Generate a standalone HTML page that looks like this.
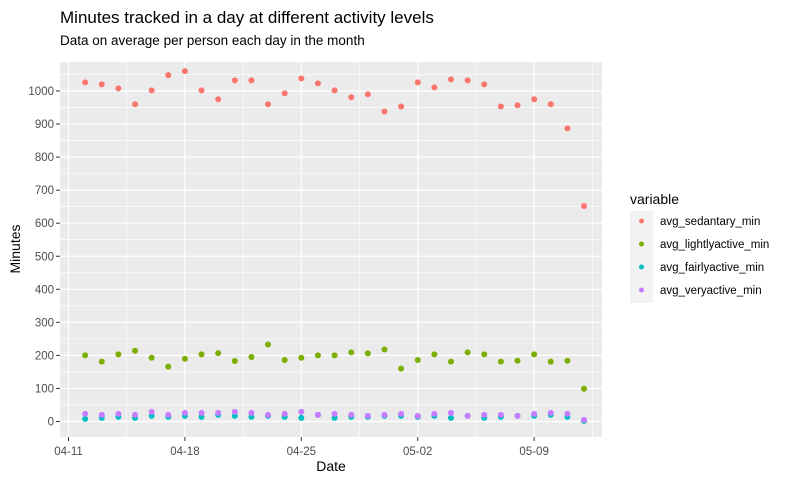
<!DOCTYPE html>
<html><head><meta charset="utf-8"><style>
body{margin:0;background:#fff;font-family:"Liberation Sans",sans-serif}
</style></head><body>
<svg id="chart" width="791" height="482" xmlns="http://www.w3.org/2000/svg" font-family="Liberation Sans, sans-serif">
<rect width="791" height="482" fill="#fff"/>
<text x="60" y="23" font-size="17" fill="#000">Minutes tracked in a day at different activity levels</text>
<text x="60" y="45" font-size="13.5" fill="#000">Data on average per person each day in the month</text>
<rect x="60" y="62" width="542" height="375" fill="#ebebeb"/>
<g id="grid"></g>
<g id="yaxis"></g>
<g id="xaxis"></g>
<g id="points"></g>
<text x="331" y="471" font-size="14" text-anchor="middle" fill="#000">Date</text>
<text transform="translate(20,249) rotate(-90)" font-size="14" text-anchor="middle" fill="#000">Minutes</text>
<g>
<text x="630" y="204" font-size="14" fill="#000">variable</text>
<rect x="630" y="211" width="23" height="92" fill="#f2f2f2"/>
<g id="legend-items"></g>
</g>
</svg>
<script>
const dates = ["04-12","04-13","04-14","04-15","04-16","04-17","04-18","04-19","04-20","04-21","04-22","04-23","04-24","04-25","04-26","04-27","04-28","04-29","04-30","05-01","05-02","05-03","05-04","05-05","05-06","05-07","05-08","05-09","05-10","05-11","05-12"];
const sedentary = [1026,1020,1008,960,1002,1048,1060,1002,975,1032,1032,960,993,1038,1023,1002,981,990,938,953,1026,1011,1035,1032,1020,953,957,975,960,887,652];
const lightly = [200,181,203,214,193,166,190,203,207,183,195,233,186,193,200,200,209,206,218,160,186,203,181,209,203,181,184,203,181,184,99];
const fairly = [8,11,14,11,17,14,17,14,20,17,14,17,14,11,20,11,14,14,17,17,14,17,11,17,11,14,17,17,20,14,2];
const veryactive = [23,20,23,20,29,20,26,26,26,29,26,20,23,29,20,23,20,17,20,23,17,23,26,17,20,20,17,23,26,23,5];
const yTicks = [0,100,200,300,400,500,600,700,800,900,1000];
const xTickLabels = ["04-11","04-18","04-25","05-02","05-09"];
const seriesNames = ["avg_sedantary_min","avg_lightlyactive_min","avg_fairlyactive_min","avg_veryactive_min"];
const colors = ["#F8766D","#7CAE00","#00BFC4","#C77CFF"];

const NS="http://www.w3.org/2000/svg";
const PL=60,PR=602,PT=62,PB=437;
function dayIndex(s){const [m,d]=s.split("-").map(Number);return m===4?d:30+d;}
const x0=dayIndex("04-11");
function xs(s){return 68.5+(dayIndex(s)-x0)*16.63;}
function ys(v){return 421.5-v*0.3305;}
function mk(tag,attrs,parent){const e=document.createElementNS(NS,tag);for(const k in attrs)e.setAttribute(k,attrs[k]);parent.appendChild(e);return e;}
const grid=document.getElementById("grid"),ya=document.getElementById("yaxis"),xa=document.getElementById("xaxis"),pts=document.getElementById("points");
// minor y grid
for(let i=0;i<yTicks.length;i++){
  const v=yTicks[i]+50; const y=ys(v);
  if(y>PT){const l=mk("line",{x1:PL,x2:PR,y1:y,y2:y,stroke:"#fff","stroke-width":0.6},grid);
  
  }
}
{const y=ys(-50);const l=mk("line",{x1:PL,x2:PR,y1:y,y2:y,stroke:"#fff","stroke-width":0.6},grid);

}
// minor x grid
for(let i=0;i<=xTickLabels.length;i++){
  const x=68.5+(i*7+3.5)*16.63;
  if(x<PR){const l=mk("line",{x1:x,x2:x,y1:PT,y2:PB,stroke:"#fff","stroke-width":0.6},grid);
  
  }
}
yTicks.forEach(v=>{
  const y=ys(v);
  const g=mk("line",{x1:PL,x2:PR,y1:y,y2:y,stroke:"#fff","stroke-width":1.2},grid);
  
  
  const t=mk("line",{x1:PL-4,x2:PL,y1:y,y2:y,stroke:"#333","stroke-width":1},ya);
  
  
  const tx=mk("text",{x:PL-6,y:y+4,"font-size":11.5,"text-anchor":"end",fill:"#4d4d4d"},ya);
  tx.textContent=v;
  
  
});
xTickLabels.forEach(s=>{
  const x=xs(s);
  const g=mk("line",{x1:x,x2:x,y1:PT,y2:PB,stroke:"#fff","stroke-width":1.2},grid);
  
  
  const t=mk("line",{x1:x,x2:x,y1:PB,y2:PB+4,stroke:"#333","stroke-width":1},xa);
  
  
  const tx=mk("text",{x:x,y:PB+18,"font-size":11.5,"text-anchor":"middle",fill:"#4d4d4d"},xa);
  tx.textContent=s;
  
  
});
const series=[sedentary,lightly,fairly,veryactive];
[3,2,1,0].forEach(k=>{});
[0,1,2,3].forEach(k=>{
  series[k].forEach((v,i)=>{
    const c=mk("circle",{cx:xs(dates[i]),cy:ys(v),r:3,fill:colors[k]},pts);
    
    
  });
});
const li=document.getElementById("legend-items");
[223,246,269,292].forEach((y,k)=>{
  const c=mk("circle",{cx:641.5,cy:y-2,r:2.5,fill:colors[k]},li);
  
  
  const t=mk("text",{x:660,y:y+2,"font-size":11.5,fill:"#000"},li);
  t.textContent=seriesNames[k];
  
  
});
</script>
</body></html>
